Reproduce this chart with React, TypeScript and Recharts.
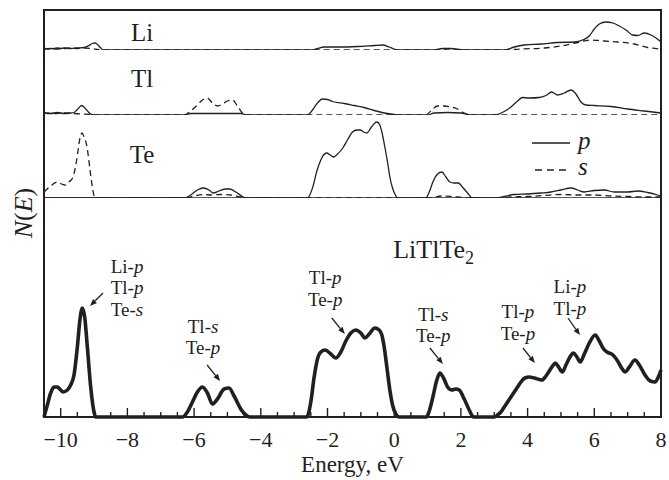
import React from 'react';
import {
  LineChart,
  Line,
  XAxis,
  YAxis,
  ReferenceLine,
  ReferenceDot,
  Legend,
} from 'recharts';

const FONT = '"Liberation Serif", "Times New Roman", serif';
const INK = '#231f20';
const WIDTH = 669;

const ENERGY_DOMAIN: [number, number] = [-10.5, 8];
const MAJOR_TICKS = [-10, -8, -6, -4, -2, 0, 2, 4, 6, 8];
const ENERGY_TICKS = Array.from({ length: 37 }, (_, i) => -10 + i * 0.5);

// partial densities of states, [energy (eV), N(E) arb. units]
const LI_P: [number, number][] = [
  [-10.5, 0.1], [-10.3, 0.15], [-10.1, 0.1], [-9.9, 0.2], [-9.7, 0.15], [-9.5, 0.2], [-9.3, 0.25],
  [-9.15, 0.45], [-9.05, 0.65], [-8.97, 0.7], [-8.88, 0.5], [-8.8, 0.2], [-8.72, 0],
  [-2.45, 0], [-2.3, 0.15], [-2.1, 0.3], [-1.6, 0.3], [-1.1, 0.35], [-0.6, 0.45], [-0.35, 0.5],
  [-0.15, 0.3], [0.0, 0.1], [0.15, 0],
  [1.2, 0], [1.45, 0.15], [1.7, 0.15], [2.1, 0],
  [3.3, 0], [3.6, 0.3], [3.9, 0.5], [4.4, 0.6], [4.9, 0.75], [5.4, 0.8], [5.65, 1.0], [5.85, 1.4],
  [6.0, 2.1], [6.15, 2.6], [6.35, 2.8], [6.55, 2.7], [6.75, 2.4], [6.95, 2.0], [7.15, 1.5],
  [7.3, 1.45], [7.5, 1.7], [7.7, 1.5], [7.85, 1.2], [8.0, 0.8],
];
const LI_S: [number, number][] = [
  [-10.5, 0.15], [-10.3, 0.1], [-10.1, 0.2], [-9.9, 0.15], [-9.7, 0.2], [-9.5, 0.15], [-9.3, 0.2],
  [-9.1, 0.15], [-8.9, 0.05], [-8.8, 0],
  [3.3, 0], [3.8, 0.1], [4.5, 0.2], [5.0, 0.4], [5.5, 0.75], [5.9, 1.0], [6.3, 0.9], [6.7, 0.8],
  [7.2, 0.6], [7.6, 0.25], [8.0, 0.1],
];

const TL_P: [number, number][] = [
  [-10.5, 0.2], [-10.3, 0.15], [-10.1, 0.25], [-9.9, 0.15], [-9.7, 0.2], [-9.6, 0.25], [-9.5, 0.55],
  [-9.37, 0.95], [-9.25, 0.6], [-9.12, 0.15], [-9.0, 0],
  [-6.3, 0], [-6.1, 0.15], [-4.6, 0.15], [-4.4, 0],
  [-2.6, 0], [-2.45, 0.5], [-2.3, 1.2], [-2.15, 1.6], [-2.0, 1.55], [-1.85, 1.35], [-1.5, 1.15],
  [-1.2, 0.95], [-0.9, 0.75], [-0.6, 0.45], [-0.3, 0.2], [0.0, 0.05], [0.2, 0],
  [1.0, 0], [1.2, 0.2], [1.6, 0.25], [2.0, 0.2], [2.3, 0],
  [3.0, 0], [3.3, 0.35], [3.5, 0.8], [3.7, 1.4], [3.85, 1.75], [4.05, 1.7], [4.35, 1.75],
  [4.55, 1.95], [4.72, 2.3], [4.9, 2.0], [5.1, 2.2], [5.3, 2.5], [5.45, 2.1], [5.6, 1.3],
  [5.75, 1.0], [6.0, 0.95], [6.5, 0.85], [7.0, 0.6], [7.5, 0.4], [8.0, 0.2],
];
const TL_S: [number, number][] = [
  [-10.5, 0.2], [-10.2, 0.15], [-9.9, 0.2], [-9.6, 0.15], [-9.4, 0.1], [-9.1, 0.05], [-9.0, 0],
  [-6.3, 0], [-6.1, 0.4], [-5.9, 1.0], [-5.75, 1.5], [-5.6, 1.7], [-5.45, 1.2], [-5.3, 0.9],
  [-5.15, 1.1], [-5.0, 1.4], [-4.85, 1.5], [-4.7, 0.9], [-4.55, 0.2], [-4.45, 0],
  [0.95, 0], [1.1, 0.4], [1.3, 0.9], [1.5, 0.9], [1.7, 0.8], [1.9, 0.6], [2.1, 0.2], [2.3, 0],
  [8.0, 0],
];

const TE_P: [number, number][] = [
  [-10.5, 0], [-6.3, 0], [-6.1, 0.3], [-5.9, 0.8], [-5.73, 1.0], [-5.55, 0.8], [-5.43, 0.5],
  [-5.25, 0.7], [-5.05, 0.9], [-4.93, 0.9], [-4.75, 0.6], [-4.55, 0.15], [-4.45, 0],
  [-2.6, 0], [-2.45, 1.0], [-2.31, 2.8], [-2.2, 3.8], [-2.12, 4.3], [-2.02, 4.5], [-1.92, 4.3],
  [-1.82, 4.1], [-1.7, 4.4], [-1.54, 5.0], [-1.4, 5.8], [-1.25, 6.6], [-1.12, 6.8], [-1.02, 6.8],
  [-0.92, 6.6], [-0.82, 6.5], [-0.7, 7.0], [-0.58, 7.5], [-0.52, 7.6], [-0.43, 7.3], [-0.35, 6.3],
  [-0.28, 5.1], [-0.2, 3.6], [-0.13, 2.1], [-0.05, 1.0], [0.02, 0.4], [0.11, 0],
  [0.95, 0], [1.05, 0.6], [1.16, 1.6], [1.3, 2.4], [1.43, 2.6], [1.55, 2.1], [1.67, 1.6],
  [1.8, 1.5], [1.92, 1.5], [2.07, 1.0], [2.2, 0.5], [2.34, 0],
  [3.0, 0], [3.3, 0.15], [3.6, 0.35], [4.0, 0.4], [4.4, 0.5], [4.7, 0.6], [5.0, 0.8], [5.3, 1.0],
  [5.5, 0.8], [5.7, 0.6], [6.0, 0.75], [6.3, 0.8], [6.6, 0.6], [7.0, 0.6], [7.3, 0.7], [7.6, 0.55],
  [7.9, 0.3], [8.0, 0.2],
];
const TE_S: [number, number][] = [
  [-10.5, 0.6], [-10.3, 1.2], [-10.11, 1.6], [-9.97, 1.4], [-9.87, 1.3], [-9.75, 1.6], [-9.63, 2.1],
  [-9.52, 3.8], [-9.42, 6.0], [-9.36, 6.5], [-9.3, 6.1], [-9.21, 5.1], [-9.12, 2.8], [-9.05, 1.1],
  [-8.97, 0],
  [-6.25, 0], [-6.0, 0.2], [-5.7, 0.35], [-5.5, 0.3], [-5.2, 0.35], [-4.9, 0.3], [-4.6, 0.1], [-4.45, 0],
  [1.1, 0], [1.4, 0.2], [1.8, 0.15], [2.2, 0],
  [3.0, 0], [3.5, 0.1], [4.0, 0.15], [4.5, 0.25], [5.0, 0.35], [5.5, 0.3], [6.0, 0.3], [6.5, 0.2],
  [7.0, 0.15], [7.5, 0.1], [8.0, 0.1],
];

// total DOS of LiTlTe2
const TOTAL: [number, number][] = [
  [-10.5, 0], [-10.4, 1.2], [-10.3, 2.4], [-10.2, 3.0], [-10.1, 3.0], [-10.0, 2.7], [-9.93, 2.5],
  [-9.8, 2.7], [-9.7, 3.2], [-9.6, 4.2], [-9.5, 7.0], [-9.42, 9.8], [-9.35, 10.9], [-9.28, 10.0],
  [-9.2, 7.0], [-9.1, 3.0], [-9.0, 0.5], [-8.95, 0],
  [-6.35, 0], [-6.2, 0.5], [-6.05, 1.5], [-5.9, 2.5], [-5.75, 3.0], [-5.6, 2.4], [-5.45, 1.3],
  [-5.3, 1.8], [-5.1, 2.8], [-4.95, 2.9], [-4.8, 2.1], [-4.6, 0.8], [-4.45, 0.2], [-4.33, 0],
  [-2.62, 0], [-2.5, 1.5], [-2.4, 4.0], [-2.3, 5.8], [-2.2, 6.5], [-2.07, 6.7], [-1.9, 6.3],
  [-1.75, 5.9], [-1.6, 6.5], [-1.45, 7.6], [-1.3, 8.4], [-1.15, 8.7], [-1.0, 8.4], [-0.88, 7.9],
  [-0.75, 8.3], [-0.58, 8.9], [-0.45, 8.7], [-0.37, 8.2], [-0.3, 7.0], [-0.22, 5.0], [-0.13, 2.7],
  [-0.05, 1.2], [0.05, 0.3], [0.15, 0],
  [0.97, 0], [1.07, 0.8], [1.16, 2.0], [1.27, 3.6], [1.37, 4.4], [1.48, 3.9], [1.6, 3.0],
  [1.73, 2.7], [1.85, 2.8], [1.95, 2.7], [2.1, 1.8], [2.25, 0.7], [2.38, 0],
  [3.0, 0], [3.1, 0.2], [3.2, 0.5], [3.3, 1.0], [3.4, 1.5], [3.5, 2.0], [3.6, 2.5], [3.7, 3.0],
  [3.8, 3.5], [3.92, 3.9], [4.05, 4.0], [4.2, 3.9], [4.43, 3.7], [4.55, 4.1], [4.65, 4.6],
  [4.75, 5.1], [4.83, 5.4], [4.93, 5.0], [5.04, 4.5], [5.15, 5.2], [5.27, 6.0], [5.37, 6.4],
  [5.48, 6.0], [5.58, 5.5], [5.7, 6.3], [5.85, 7.4], [6.03, 8.2], [6.15, 7.6], [6.28, 6.8],
  [6.38, 6.5], [6.56, 6.2], [6.7, 5.6], [6.82, 4.9], [6.92, 4.5], [7.05, 5.0], [7.22, 5.7],
  [7.35, 5.2], [7.52, 4.2], [7.68, 3.6], [7.82, 3.5], [7.92, 4.0], [8.0, 4.7],
];

const PANEL_LABELS = ['Li', 'Tl', 'Te'];
const NOTE_TEXT = [
  ['Li-p', 'Tl-p', 'Te-s'],
  ['Tl-s', 'Te-p'],
  ['Tl-p', 'Te-p'],
  ['Tl-s', 'Te-p'],
  ['Tl-p', 'Te-p'],
  ['Li-p', 'Tl-p'],
];

// where the notes sit in the total panel (energy, N) and where their arrows run
const NOTE_LEAD = 21.5;
const NOTE_PLACES = [
  { at: [-8.01, 14.45], arrow: [[-8.73, 12.4], [-9.12, 11.1]] },
  { at: [-5.73, 8.43], arrow: [[-5.61, 5.2], [-5.22, 3.6]] },
  { at: [-2.07, 13.28], arrow: [[-1.87, 9.9], [-1.48, 8.3]] },
  { at: [1.17, 9.63], arrow: [[1.07, 6.9], [1.46, 5.3]] },
  { at: [3.71, 9.88], arrow: [[3.86, 6.9], [4.22, 5.4]] },
  { at: [5.27, 12.38], arrow: [[5.21, 9.9], [5.57, 8.2]] },
];

const pts = (arr: [number, number][]) => arr.map(([e, n]) => ({ e, n }));

function Arrow(props: any) {
  const { x1, y1, x2, y2 } = props;
  const a = Math.atan2(y2 - y1, x2 - x1);
  const len = 7;
  const half = 2.8;
  const bx = x2 - len * Math.cos(a);
  const by = y2 - len * Math.sin(a);
  const head = [
    `${x2},${y2}`,
    `${bx + half * Math.sin(a)},${by - half * Math.cos(a)}`,
    `${bx - half * Math.sin(a)},${by + half * Math.cos(a)}`,
  ].join(' ');
  return (
    <g>
      <line x1={x1} y1={y1} x2={bx} y2={by} stroke={INK} strokeWidth={1.3} />
      <polygon points={head} fill={INK} />
    </g>
  );
}

// "Tl-p" -> element upright, orbital italic; all lines in one text element
function noteShape(lines: string[]) {
  return (props: any) => (
    <text x={props.cx} y={props.cy} textAnchor="middle" fontFamily={FONT} fontSize={19} fill={INK}>
      {lines.map((ln, i) => {
        const [el, orb] = ln.split('-');
        return (
          <React.Fragment key={i}>
            <tspan x={props.cx} dy={i === 0 ? 0 : NOTE_LEAD}>
              {el}-
            </tspan>
            <tspan fontStyle="italic">{orb}</tspan>
          </React.Fragment>
        );
      })}
    </text>
  );
}

function panelLabel(text: string) {
  return (props: any) => (
    <text x={props.cx} y={props.cy} textAnchor="middle" fontFamily={FONT} fontSize={25} fill={INK}>
      {text}
    </text>
  );
}

function compoundLabel(props: any) {
  return (
    <text x={props.cx} y={props.cy} fontFamily={FONT} fontSize={26} fill={INK}>
      LiTlTe
      <tspan fontSize={18} dy={6}>
        2
      </tspan>
    </text>
  );
}

function EnergyTick(props: any) {
  const { x, y, payload } = props;
  const v = payload.value;
  const major = MAJOR_TICKS.includes(v);
  return (
    <g>
      <line x1={x} x2={x} y1={y} y2={y - (major ? 9 : 5)} stroke={INK} strokeWidth={1.4} />
      {major && (
        <text x={x} y={y + 30} textAnchor="middle" fontFamily={FONT} fontSize={22} fill={INK}>
          {v < 0 ? `\u2212${-v}` : `${v}`}
        </text>
      )}
    </g>
  );
}

function LegendKey() {
  return (
    <svg width={95} height={64} style={{ display: 'block', overflow: 'visible' }}>
      <line x1={4} x2={42} y1={22} y2={22} stroke={INK} strokeWidth={1.4} />
      <text x={50} y={28} fontFamily={FONT} fontSize={25} fontStyle="italic" fill={INK}>
        p
      </text>
      <line x1={7} x2={42} y1={49} y2={49} stroke={INK} strokeWidth={1.4} strokeDasharray="7 5" />
      <text x={50} y={54} fontFamily={FONT} fontSize={25} fontStyle="italic" fill={INK}>
        s
      </text>
    </svg>
  );
}

interface PanelProps {
  top: number;
  height: number;
  marginTop: number;
  yMax: number;
  p: [number, number][];
  s: [number, number][];
  label: string;
  labelAt: [number, number];
  children?: React.ReactNode;
}

function PartialPanel({ top, height, marginTop, yMax, p, s, label, labelAt, children }: PanelProps) {
  return (
    <div style={{ position: 'absolute', left: 0, top }}>
      <LineChart width={WIDTH} height={height} margin={{ top: marginTop, right: 8, bottom: 0, left: 44 }}>
        <XAxis type="number" dataKey="e" domain={ENERGY_DOMAIN} hide />
        <YAxis type="number" domain={[0, yMax]} hide />
        <Line
          data={pts(s)}
          dataKey="n"
          type="monotone"
          stroke={INK}
          strokeWidth={1.3}
          strokeDasharray="6 4"
          dot={false}
          isAnimationActive={false}
        />
        <Line
          data={pts(p)}
          dataKey="n"
          type="monotone"
          stroke={INK}
          strokeWidth={1.3}
          dot={false}
          isAnimationActive={false}
        />
        <ReferenceDot x={labelAt[0]} y={labelAt[1]} r={0} shape={panelLabel(label)} />
        {children}
      </LineChart>
    </div>
  );
}

export default function App() {
  return (
    <div style={{ position: 'absolute', left: 0, top: 0, width: WIDTH, height: 480, background: '#fff' }}>
      <PartialPanel top={0} height={50} marginTop={10} yMax={4} p={LI_P} s={LI_S} label={PANEL_LABELS[0]} labelAt={[-7.56, 0.9]} />
      <PartialPanel top={50} height={65} marginTop={0} yMax={6.5} p={TL_P} s={TL_S} label={PANEL_LABELS[1]} labelAt={[-7.56, 2.8]} />
      <PartialPanel top={115} height={83} marginTop={0} yMax={8.3} p={TE_P} s={TE_S} label={PANEL_LABELS[2]} labelAt={[-7.56, 3.5]}>
        <ReferenceLine y={0} stroke={INK} strokeWidth={1.6} />
        <Legend
          layout="vertical"
          align="center"
          verticalAlign="middle"
          wrapperStyle={{ left: 528, top: 6, width: 95 }}
          content={() => <LegendKey />}
        />
      </PartialPanel>

      <div style={{ position: 'absolute', left: 0, top: 198 }}>
        <LineChart width={WIDTH} height={282} margin={{ top: 0, right: 8, bottom: 0, left: 44 }}>
          <XAxis
            type="number"
            dataKey="e"
            domain={ENERGY_DOMAIN}
            ticks={ENERGY_TICKS}
            interval={0}
            tickSize={0}
            tickMargin={0}
            tickLine={false}
            axisLine={false}
            height={63}
            tick={<EnergyTick />}
            label={{
              value: 'Energy, eV',
              position: 'insideBottom',
              offset: 8,
              fontFamily: FONT,
              fontSize: 23,
              fill: INK,
            }}
          />
          <YAxis type="number" domain={[0, 21.9]} hide />
          <Line
            data={pts(TOTAL)}
            dataKey="n"
            type="monotone"
            stroke={INK}
            strokeWidth={3.6}
            strokeLinejoin="round"
            dot={false}
            isAnimationActive={false}
          />
          <ReferenceDot x={-0.03} y={15.9} r={0} shape={compoundLabel} />
          {NOTE_PLACES.map((pl, i) => (
            <ReferenceDot key={`t${i}`} x={pl.at[0]} y={pl.at[1]} r={0} shape={noteShape(NOTE_TEXT[i])} />
          ))}
          {NOTE_PLACES.map((pl, i) => (
            <ReferenceLine
              key={`a${i}`}
              segment={[
                { x: pl.arrow[0][0], y: pl.arrow[0][1] },
                { x: pl.arrow[1][0], y: pl.arrow[1][1] },
              ]}
              shape={(props: any) => <Arrow {...props} />}
            />
          ))}
        </LineChart>
      </div>

      {/* plot frame */}
      <div
        style={{
          position: 'absolute',
          left: 43,
          top: 9,
          width: 619,
          height: 409,
          boxSizing: 'border-box',
          border: `2px solid ${INK}`,
          pointerEvents: 'none',
        }}
      />

      <div
        style={{
          position: 'absolute',
          left: 24,
          top: 213,
          transform: 'translate(-50%, -50%) rotate(-90deg)',
          fontFamily: FONT,
          fontSize: 26,
          color: INK,
          whiteSpace: 'nowrap',
          lineHeight: 1,
        }}
      >
        <i>N</i>(<i>E</i>)
      </div>
    </div>
  );
}
